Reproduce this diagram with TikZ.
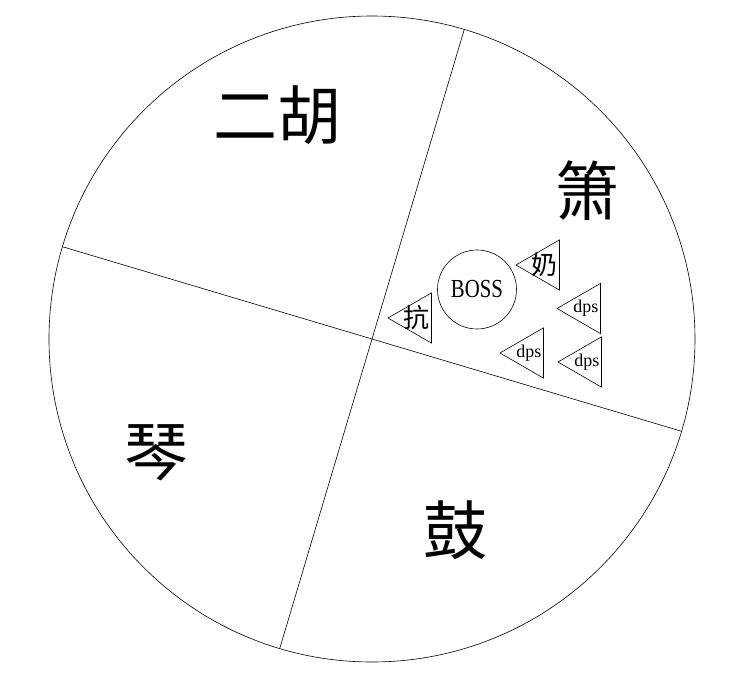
\documentclass[tikz,border=0pt]{standalone}
\usepackage{fontspec}
\setmainfont{Liberation Serif}
\newfontfamily\cjk{Noto Sans CJK SC}
\newfontfamily\narrowserif[FakeStretch=0.8]{Liberation Serif}
\usetikzlibrary{shapes.geometric}

\begin{document}
\begin{tikzpicture}[x=1pt,y=1pt,line width=0.6pt,
    part/.style={font=\cjk\fontsize{64}{64}\selectfont},
    unit/.style={draw,regular polygon,regular polygon sides=3,shape border rotate=90,
                 minimum size=58pt,inner sep=0pt},
    role/.style={font=\cjk\fontsize{26}{26}\selectfont,inner sep=0pt},
    dmg/.style={font=\fontsize{18}{18}\selectfont,inner sep=0pt}]
    \useasboundingbox (-372,-350) rectangle (360,339);
    \coordinate (o) at (0,0);
    \draw (o) circle (323);
    \draw (73.4:323) -- (253.4:323);
    \draw (163.4:323) -- (343.4:323);
    % four parts
    \node[part] (erhu) at (-94,224) {二胡};
    \node[part] (xiao) at (216,148) {箫};
    \node[part] (qin) at (-215,-114) {琴};
    \node[part] (gu) at (84,-191) {鼓};
    % boss and party
    \node[draw,circle,minimum size=79pt,inner sep=0pt,
          font=\narrowserif\fontsize{26}{26}\selectfont] (boss) at (105,49.5) {BOSS};
    \node[unit,label={[role]center:抗}] (tank) at (45,21) {};
    \node[unit,label={[role]center:奶}] (healer) at (173,74) {};
    \node[unit,label={[dmg]center:dps}] (dpsa) at (214,30.5) {};
    \node[unit,label={[dmg]center:dps}] (dpsb) at (157,-14) {};
    \node[unit,label={[dmg]center:dps}] (dpsc) at (215,-23) {};
\end{tikzpicture}
\end{document}
